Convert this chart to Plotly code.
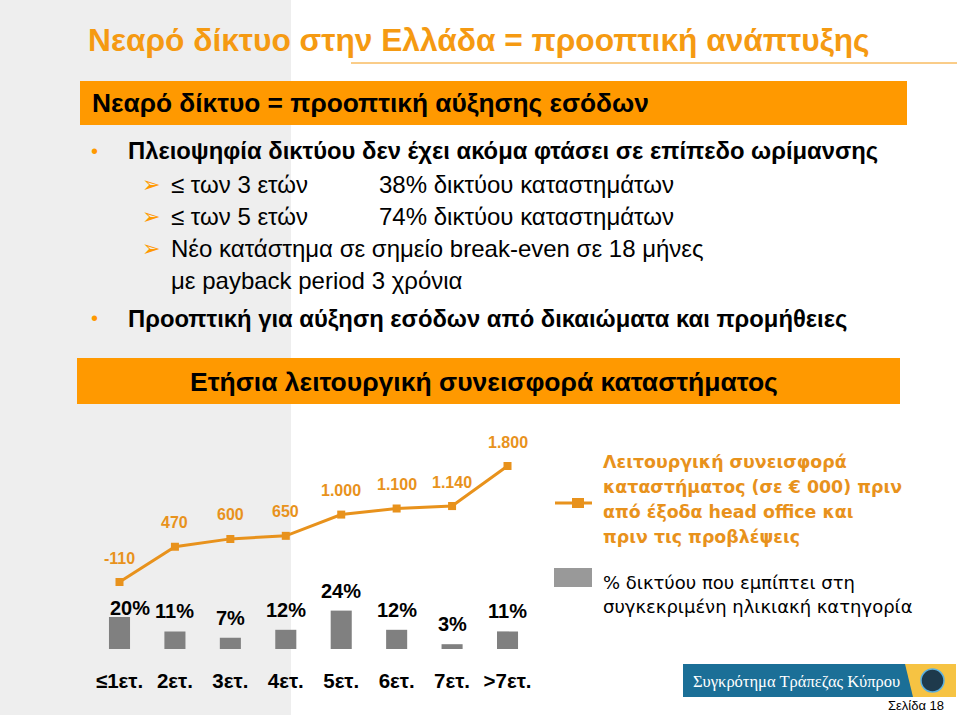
import plotly.graph_objects as go

# ---------------- data ----------------
years = ["≤1ετ.", "2ετ.", "3ετ.", "4ετ.", "5ετ.", "6ετ.", "7ετ.", ">7ετ."]
contribution = [-110, 470, 600, 650, 1000, 1100, 1140, 1800]
network_pct = [20, 11, 7, 12, 24, 12, 3, 11]

title_text = "Νεαρό δίκτυο στην Ελλάδα = προοπτική ανάπτυξης"
banner_text = "Νεαρό δίκτυο = προοπτική αύξησης εσόδων"
chart_title = "Ετήσια λειτουργική συνεισφορά καταστήματος"
legend_line = ["Λειτουργική συνεισφορά", "καταστήματος (σε € 000) πριν",
               "από έξοδα head office και", "πριν τις προβλέψεις"]
legend_bar = ["% δικτύου που εμπίπτει στη", "συγκεκριμένη ηλικιακή κατηγορία"]

# ---------------- styling / geometry ----------------
W, H = 960, 718
FONT = "Liberation Sans, Arial, sans-serif"
WIDE = "DejaVu Sans, Liberation Sans, sans-serif"
ORANGE_TITLE = "#F59A12"
ORANGE_BAR = "#FF9900"
ORANGE_LINE = "#E8921C"
GREY_BG = "#EEEEEE"
BAR_GREY = "#808080"
LEG_GREY = "#999999"


def fx(px):
    return px / W


def fy(py):
    return 1 - py / H


x0_px, dx_px = 119.5, 55.43
plot_left = x0_px - 0.5 * dx_px
plot_right = x0_px + (len(years) - 0.5) * dx_px
plot_bottom, plot_top = 649, 425
pct_px = 1.6
line_ppu = 116 / 1910
ref_val, ref_px = -110, 582

yrange = [0, (plot_bottom - plot_top) / pct_px]
y2range = [ref_val - (plot_bottom - ref_px) / line_ppu,
           ref_val + (ref_px - plot_top) / line_ppu]

fig = go.Figure()

fig.add_trace(go.Bar(
    x=years, y=network_pct, marker=dict(color=BAR_GREY, line=dict(width=0)),
    width=0.38, yaxis="y", showlegend=False, hoverinfo="skip",
    name="% δικτύου"))

fig.add_trace(go.Scatter(
    x=years, y=contribution, mode="lines+markers", yaxis="y2",
    line=dict(color=ORANGE_LINE, width=3),
    marker=dict(symbol="square", size=8, color=ORANGE_LINE),
    showlegend=False, hoverinfo="skip", name="Λειτουργική συνεισφορά"))

annotations = []
shapes = []


def text(x, y, s, size, color="black", bold=False, anchor="left", family=FONT):
    annotations.append(dict(
        xref="paper", yref="paper", x=fx(x), y=fy(y), text=s, showarrow=False,
        xanchor=anchor, yanchor="middle",
        font=dict(family=family, size=size, color=color,
                  weight="bold" if bold else "normal")))


def rect(x0, y0, x1, y1, color, layer="below"):
    shapes.append(dict(type="rect", xref="paper", yref="paper",
                       x0=fx(x0), x1=fx(x1), y0=fy(y1), y1=fy(y0),
                       fillcolor=color, line=dict(width=0), layer=layer))


# background grey panel
rect(0, 0, 291, 715, GREY_BG)
# title underline
shapes.append(dict(type="line", xref="paper", yref="paper",
                   x0=fx(351), x1=fx(957), y0=fy(63), y1=fy(63),
                   line=dict(color=ORANGE_TITLE, width=1), layer="below"))
# orange banners
rect(80, 81, 907, 125, ORANGE_BAR)
rect(77, 358, 900, 404, ORANGE_BAR)

text(86, 40, title_text, 31.7, ORANGE_TITLE, bold=True)
text(90, 103, banner_text, 26.3, "black", bold=True)
text(484, 382, chart_title, 26.5, "black", bold=True, anchor="center")

# bullet text
text(89, 151, "•", 20, ORANGE_BAR)
text(126, 151, "Πλειοψηφία δικτύου δεν έχει ακόμα φτάσει σε επίπεδο ωρίμανσης", 23.8, bold=True)
text(140, 184, "➢", 22, ORANGE_BAR, family="DejaVu Sans")
text(169, 184, "≤ των 3 ετών", 24)
text(377, 184, "38% δικτύου καταστημάτων", 24)
text(140, 216, "➢", 22, ORANGE_BAR, family="DejaVu Sans")
text(169, 216, "≤ των 5 ετών", 24)
text(377, 216, "74% δικτύου καταστημάτων", 24)
text(140, 248, "➢", 22, ORANGE_BAR, family="DejaVu Sans")
text(169, 248, "Νέο κατάστημα σε σημείο break-even σε 18 μήνες", 24)
text(169, 280, "με payback period 3 χρόνια", 24)
text(89, 318, "•", 20, ORANGE_BAR)
text(126, 318, "Προοπτική για αύξηση εσόδων από δικαιώματα και προμήθειες", 23.8, bold=True)

# value labels on the line (from data)
for yr, v in zip(years, contribution):
    annotations.append(dict(
        x=yr, y=v, xref="x", yref="y2", yshift=24, showarrow=False,
        text=f"{v:,}".replace(",", "."), xanchor="center", yanchor="middle",
        font=dict(family=FONT, size=16, color=ORANGE_LINE, weight="bold")))

# percentage labels on bars (from data)
pct_offsets = {0: (10, 9)}
for i, (yr, p) in enumerate(zip(years, network_pct)):
    xs, ys = pct_offsets.get(i, (0, 20))
    annotations.append(dict(
        x=yr, y=p, xref="x", yref="y", xshift=xs, yshift=ys, showarrow=False,
        text=f"{p}%", xanchor="center", yanchor="middle",
        font=dict(family=FONT, size=20, color="black", weight="bold")))

# custom legend
shapes.append(dict(type="line", xref="paper", yref="paper",
                   x0=fx(555), x1=fx(592), y0=fy(503), y1=fy(503),
                   line=dict(color=ORANGE_LINE, width=3)))
rect(572, 498, 584, 508, ORANGE_LINE, layer="above")
for i, s in enumerate(legend_line):
    text(601, 462 + 25 * i, s, 17.4, ORANGE_LINE, bold=True, family=WIDE)
rect(554, 568, 592, 587, LEG_GREY)
for i, s in enumerate(legend_bar):
    text(601, 582 + 24 * i, s, 18, "black", family=WIDE)

# logo
rect(900, 664, 956, 697, "#F6C343")
shapes.append(dict(type="path", xref="paper", yref="paper",
                   path=f"M {fx(683)},{fy(664)} L {fx(905)},{fy(664)} L {fx(913)},{fy(697)} L {fx(683)},{fy(697)} Z",
                   fillcolor="#1B6F97", line=dict(width=0), layer="below"))
shapes.append(dict(type="circle", xref="paper", yref="paper",
                   x0=fx(921), x1=fx(944), y0=fy(692), y1=fy(669),
                   fillcolor="#1E3A4C", line=dict(color="#5BB0E0", width=1.5),
                   layer="above"))
text(691, 681, "Συγκρότημα Τράπεζας Κύπρου", 16.5, "white", family="Liberation Serif, serif")
text(916, 705, "Σελίδα 18", 13, "black", anchor="center")

fig.update_layout(
    width=W, height=H, autosize=False,
    margin=dict(l=0, r=0, t=0, b=0),
    paper_bgcolor="white", plot_bgcolor="rgba(0,0,0,0)",
    font=dict(family=FONT),
    bargap=0.6,
    xaxis=dict(domain=[fx(plot_left), fx(plot_right)], type="category",
               categoryorder="array", categoryarray=years,
               range=[-0.5, len(years) - 0.5],
               showgrid=False, zeroline=False, showline=False, ticks="",
               tickfont=dict(family=FONT, size=20.5, color="black", weight="bold"),
               ticklabelstandoff=17, anchor="y"),
    yaxis=dict(domain=[fy(plot_bottom), fy(plot_top)], range=yrange,
               visible=False, fixedrange=True),
    yaxis2=dict(domain=[fy(plot_bottom), fy(plot_top)], range=y2range,
                overlaying="y", visible=False, fixedrange=True),
    shapes=shapes, annotations=annotations,
)

fig.write_html("out.html", config={"displayModeBar": False},
               post_script="document.body.style.margin='0';document.body.style.overflow='hidden';")
